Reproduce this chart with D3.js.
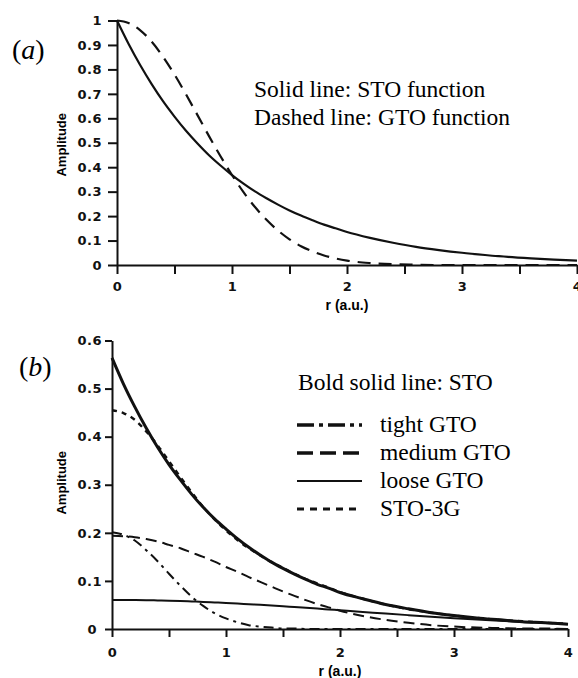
<!DOCTYPE html>
<html>
<head>
<meta charset="utf-8">
<script src="https://cdn.jsdelivr.net/npm/d3@7"></script>
<style>
  html, body { margin: 0; padding: 0; background: #fff; }
  svg { display: block; }
  .sans  { font-family: 'Liberation Sans', Arimo, Arial, Helvetica, sans-serif; font-weight: 700; }
  .tick-lab { font-family: 'DejaVu Sans', 'Liberation Sans', Arial, sans-serif; font-weight: 700; }
  .serif { font-family: 'Liberation Serif', Tinos, 'Times New Roman', Times, 'DejaVu Serif', serif; font-weight: 400; }
</style>
</head>
<body>
<div id="chart"></div>
<script>
// --- panel (a): STO vs GTO ---
const rA   = [0,0.1,0.2,0.3,0.4,0.5,0.6,0.7,0.8,0.9,1.0,1.1,1.2,1.3,1.4,1.5,1.6,1.7,1.8,1.9,2.0,2.2,2.4,2.6,2.8,3.0,3.2,3.4,3.6,3.8,4.0];
const stoA = [1,0.905,0.819,0.741,0.670,0.607,0.549,0.497,0.449,0.407,0.368,0.333,0.301,0.273,0.247,0.223,0.202,0.183,0.165,0.150,0.135,0.111,0.091,0.074,0.061,0.050,0.041,0.033,0.027,0.022,0.018];
const gtoA = [1,0.990,0.961,0.914,0.852,0.779,0.698,0.613,0.527,0.445,0.368,0.298,0.237,0.185,0.141,0.105,0.077,0.056,0.039,0.027,0.018,0.008,0.003,0.001,0,0,0,0,0,0,0];

// --- panel (b): STO, three GTOs and STO-3G ---
const rB     = [0,0.1,0.2,0.3,0.4,0.5,0.6,0.7,0.8,0.9,1.0,1.1,1.2,1.3,1.4,1.5,1.6,1.7,1.8,1.9,2.0,2.2,2.4,2.6,2.8,3.0,3.2,3.4,3.6,3.8,4.0];
const stoB   = [0.564,0.510,0.462,0.418,0.378,0.342,0.310,0.280,0.253,0.229,0.208,0.188,0.170,0.154,0.139,0.126,0.114,0.103,0.093,0.085,0.076,0.063,0.051,0.042,0.034,0.028,0.023,0.019,0.015,0.013,0.010];
const tightB = [0.201,0.196,0.184,0.164,0.141,0.115,0.090,0.067,0.048,0.033,0.022,0.014,0.008,0.005,0.003,0.001,0.001,0,0,0,0,0,0,0,0,0,0,0,0,0,0];
const mediumB= [0.194,0.193,0.191,0.187,0.182,0.175,0.168,0.159,0.150,0.140,0.129,0.119,0.108,0.098,0.088,0.078,0.069,0.060,0.052,0.045,0.038,0.027,0.019,0.013,0.008,0.005,0.003,0.002,0.001,0.001,0];
const looseB = [0.0605,0.0604,0.0602,0.0599,0.0594,0.0589,0.0582,0.0573,0.0564,0.0553,0.0542,0.0530,0.0516,0.0503,0.0488,0.0473,0.0456,0.0440,0.0424,0.0407,0.0390,0.0356,0.0321,0.0288,0.0256,0.0225,0.0196,0.0170,0.0146,0.0124,0.0104];
const sto3gB = [0.455,0.449,0.435,0.411,0.382,0.349,0.316,0.284,0.254,0.228,0.205,0.185,0.168,0.153,0.139,0.127,0.115,0.104,0.095,0.086,0.077,0.063,0.051,0.041,0.034,0.028,0.023,0.019,0.016,0.013,0.011];

// ticks
const xTicks  = [0,0.5,1,1.5,2,2.5,3,3.5,4];
const yTicksA = [0,0.1,0.2,0.3,0.4,0.5,0.6,0.7,0.8,0.9,1];
const yTicksB = [0,0.1,0.2,0.3,0.4,0.5,0.6];

const notesA = ['Solid line: STO function', 'Dashed line: GTO function'];
const legendTitle = 'Bold solid line: STO';
const legendLabels = ['tight GTO', 'medium GTO', 'loose GTO', 'STO-3G'];

const W = 578, H = 678;

const svg = d3.select('#chart').append('svg')
  .attr('width', W).attr('height', H)
  .attr('viewBox', `0 0 ${W} ${H}`);
svg.append('rect').attr('width', W).attr('height', H).attr('fill', '#fff');

const fmtX = d => Number.isInteger(d) ? d : '';
const fmtY = d => String(d);

function styleAxis(g){
  g.attr('font-family', null).attr('font-size', null);
  g.selectAll('path, line').attr('stroke', '#111').attr('stroke-width', 2);
  g.selectAll('text')
    .attr('class', 'tick-lab')
    .style('font-size', '13px')
    .attr('fill', '#111')
    .attr('letter-spacing', 0.5);
}

function drawLine(x, y, rs, vs, width, dash){
  const line = d3.line()
    .x(d => x(d[0]))
    .y(d => y(d[1]))
    .curve(d3.curveMonotoneX);
  svg.append('path')
    .datum(d3.zip(rs, vs))
    .attr('fill', 'none')
    .attr('stroke', '#111')
    .attr('stroke-width', width)
    .attr('stroke-dasharray', dash || null)
    .attr('d', line);
}

// ===== PANEL (a) =====
const xA = d3.scaleLinear().domain([0, 4]).range([117, 577]);
const yA = d3.scaleLinear().domain([0, 1]).range([265, 20.5]);

svg.append('g')
  .attr('transform', `translate(0,${yA(0)})`)
  .call(d3.axisBottom(xA).tickValues(xTicks).tickFormat(fmtX).tickSize(9).tickSizeOuter(0).tickPadding(8))
  .call(styleAxis);

svg.append('g')
  .attr('transform', `translate(${xA(0)},0)`)
  .call(d3.axisLeft(yA).tickValues(yTicksA).tickFormat(fmtY).tickSize(9).tickSizeOuter(0).tickPadding(6))
  .call(styleAxis);

drawLine(xA, yA, rA, stoA, 2.2);
drawLine(xA, yA, rA, gtoA, 2.2, '13,8');

svg.append('text')
  .attr('class', 'sans')
  .attr('x', xA(2)).attr('y', 310)
  .attr('text-anchor', 'middle')
  .style('font-size', '14px')
  .text('r (a.u.)');

svg.append('text')
  .attr('class', 'sans')
  .attr('transform', `translate(66,${(yA(0) + yA(1)) / 2 + 2}) rotate(-90)`)
  .attr('text-anchor', 'middle')
  .style('font-size', '13px')
  .text('Amplitude');

svg.append('text')
  .attr('class', 'serif')
  .attr('x', 12).attr('y', 59)
  .style('font-size', '28px')
  .html('(<tspan font-style="italic">a</tspan>)');

svg.selectAll('.noteA')
  .data(notesA)
  .enter()
  .append('text')
  .attr('class', 'serif')
  .attr('x', 254)
  .attr('y', (d, i) => 97 + i * 28)
  .style('font-size', '23.5px')
  .text(d => d);

// ===== PANEL (b) =====
const xB = d3.scaleLinear().domain([0, 4]).range([112, 568]);
const yB = d3.scaleLinear().domain([0, 0.6]).range([629, 340.5]);

svg.append('g')
  .attr('transform', `translate(0,${yB(0)})`)
  .call(d3.axisBottom(xB).tickValues(xTicks).tickFormat(fmtX).tickSize(8).tickSizeOuter(0).tickPadding(11))
  .call(styleAxis);

svg.append('g')
  .attr('transform', `translate(${xB(0)},0)`)
  .call(d3.axisLeft(yB).tickValues(yTicksB).tickFormat(fmtY).tickSize(7).tickSizeOuter(0).tickPadding(3))
  .call(styleAxis)
  .call(g => g.selectAll('.tick text').filter(d => d === 0).attr('dx', -5));

// series styles (width, dash)
const styleB = {
  tight:  {w: 2, dash: '10,5,3,5'},
  medium: {w: 2, dash: '11,6'},
  loose:  {w: 2, dash: null},
  sto3g:  {w: 2.4, dash: '5,5'}
};

drawLine(xB, yB, rB, tightB,  styleB.tight.w,  styleB.tight.dash);
drawLine(xB, yB, rB, mediumB, styleB.medium.w, styleB.medium.dash);
drawLine(xB, yB, rB, looseB,  styleB.loose.w,  styleB.loose.dash);
drawLine(xB, yB, rB, stoB, 3);
drawLine(xB, yB, rB, sto3gB,  styleB.sto3g.w,  styleB.sto3g.dash);

svg.append('text')
  .attr('class', 'sans')
  .attr('x', xB(2)).attr('y', 676)
  .attr('text-anchor', 'middle')
  .style('font-size', '14px')
  .text('r (a.u.)');

svg.append('text')
  .attr('class', 'sans')
  .attr('transform', `translate(66,${(yB(0) + yB(0.6)) / 2 - 2}) rotate(-90)`)
  .attr('text-anchor', 'middle')
  .style('font-size', '13px')
  .text('Amplitude');

svg.append('text')
  .attr('class', 'serif')
  .attr('x', 19).attr('y', 376)
  .style('font-size', '28px')
  .html('(<tspan font-style="italic">b</tspan>)');

// legend
svg.append('text')
  .attr('class', 'serif')
  .attr('x', 298).attr('y', 390)
  .style('font-size', '23.5px')
  .text(legendTitle);

const legendStyle = [
  {w: 3.5, dash: '17,5,4,5'},
  {w: 3.5, dash: '16,7'},
  {w: 2, dash: null},
  {w: 3, dash: '7,6'}
];

const leg = svg.selectAll('.leg')
  .data(legendLabels)
  .enter()
  .append('g')
  .attr('class', 'leg')
  .attr('transform', (d, i) => `translate(0,${425 + i * 28})`);

leg.append('line')
  .attr('x1', 297).attr('x2', 362)
  .attr('stroke', '#111')
  .attr('stroke-width', (d, i) => legendStyle[i].w)
  .attr('stroke-dasharray', (d, i) => legendStyle[i].dash);

leg.append('text')
  .attr('class', 'serif')
  .attr('x', 380).attr('y', 7)
  .style('font-size', '23.5px')
  .text(d => d);
</script>
</body>
</html>
